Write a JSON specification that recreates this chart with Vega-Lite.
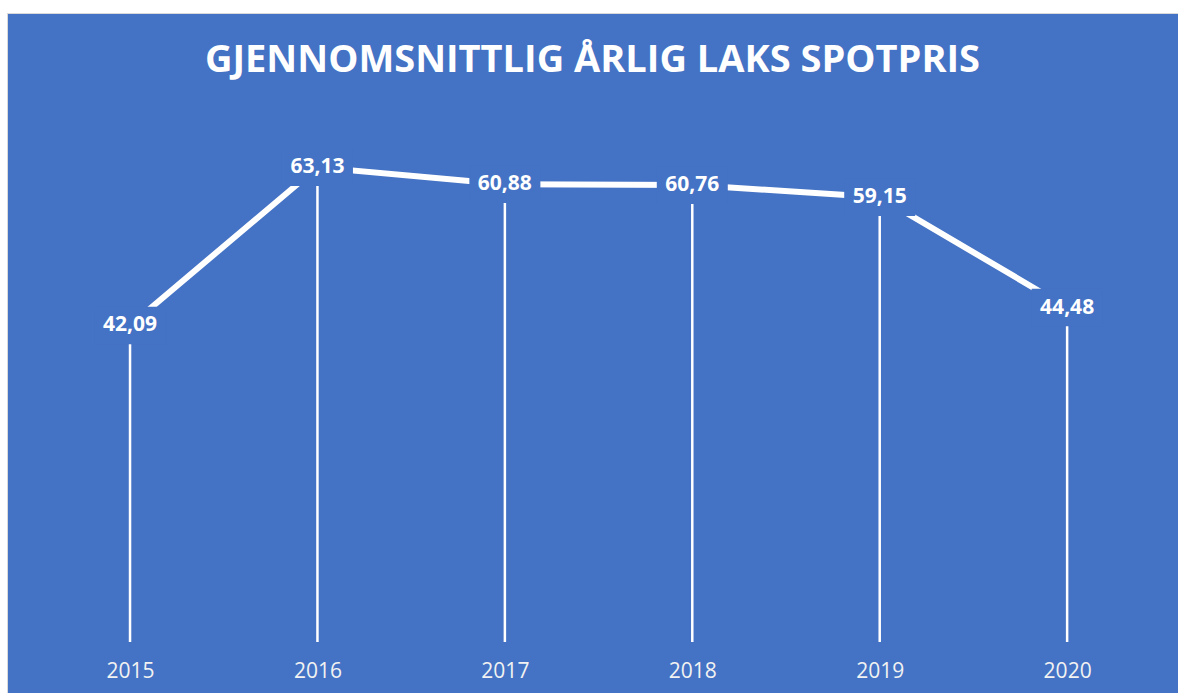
{
  "$schema": "https://vega.github.io/schema/vega-lite/v6.json",
  "width": 1171,
  "height": 680,
  "autosize": {"type": "none"},
  "padding": {"top": 13, "left": 7, "right": 0, "bottom": 0},
  "background": "white",
  "config": {
    "view": {"fill": "#4472C4", "stroke": "#D9D9D9", "strokeWidth": 1},
    "locale": {"number": {"decimal": ",", "thousands": " ", "grouping": [3], "currency": ["", " kr"]}}
  },
  "title": {
    "text": "GJENNOMSNITTLIG ÅRLIG LAKS SPOTPRIS",
    "color": "white",
    "font": "Open Sans",
    "fontSize": 38,
    "fontWeight": "bold",
    "anchor": "middle",
    "baseline": "alphabetic",
    "offset": -97
  },
  "data": {
    "values": [
      {"year": "2015", "price": 42.09},
      {"year": "2016", "price": 63.13},
      {"year": "2017", "price": 60.88},
      {"year": "2018", "price": 60.76},
      {"year": "2019", "price": 59.15},
      {"year": "2020", "price": 44.48}
    ]
  },
  "encoding": {
    "x": {
      "field": "year",
      "type": "ordinal",
      "scale": {"type": "point", "padding": 0.624, "align": 0.526},
      "axis": {
        "title": null,
        "domain": false,
        "ticks": false,
        "grid": false,
        "labelAngle": 0,
        "labelFont": "Open Sans",
        "labelFontSize": 21,
        "labelColor": "#F2F2F2",
        "labelBaseline": "alphabetic",
        "labelPadding": 0,
        "offset": -16
      }
    },
    "y": {
      "field": "price",
      "type": "quantitative",
      "scale": {"domain": [-6.78, 83.64], "nice": false, "zero": false},
      "axis": null
    }
  },
  "layer": [
    {
      "mark": {"type": "rule", "color": "white", "strokeWidth": 2.5},
      "encoding": {"y2": {"datum": 0}}
    },
    {
      "mark": {"type": "line", "color": "white", "strokeWidth": 6}
    },
    {
      "mark": {
        "type": "point",
        "shape": "M-1,-0.53L1,-0.53L1,0.53L-1,0.53Z",
        "size": 5041,
        "filled": true,
        "fill": "#4472C4",
        "opacity": 1,
        "strokeWidth": 0
      }
    },
    {
      "mark": {
        "type": "text",
        "color": "white",
        "font": "Open Sans",
        "fontSize": 21,
        "fontWeight": "bold",
        "baseline": "middle",
        "align": "center"
      },
      "encoding": {"text": {"field": "price", "type": "quantitative", "format": ".2f"}}
    }
  ]
}
